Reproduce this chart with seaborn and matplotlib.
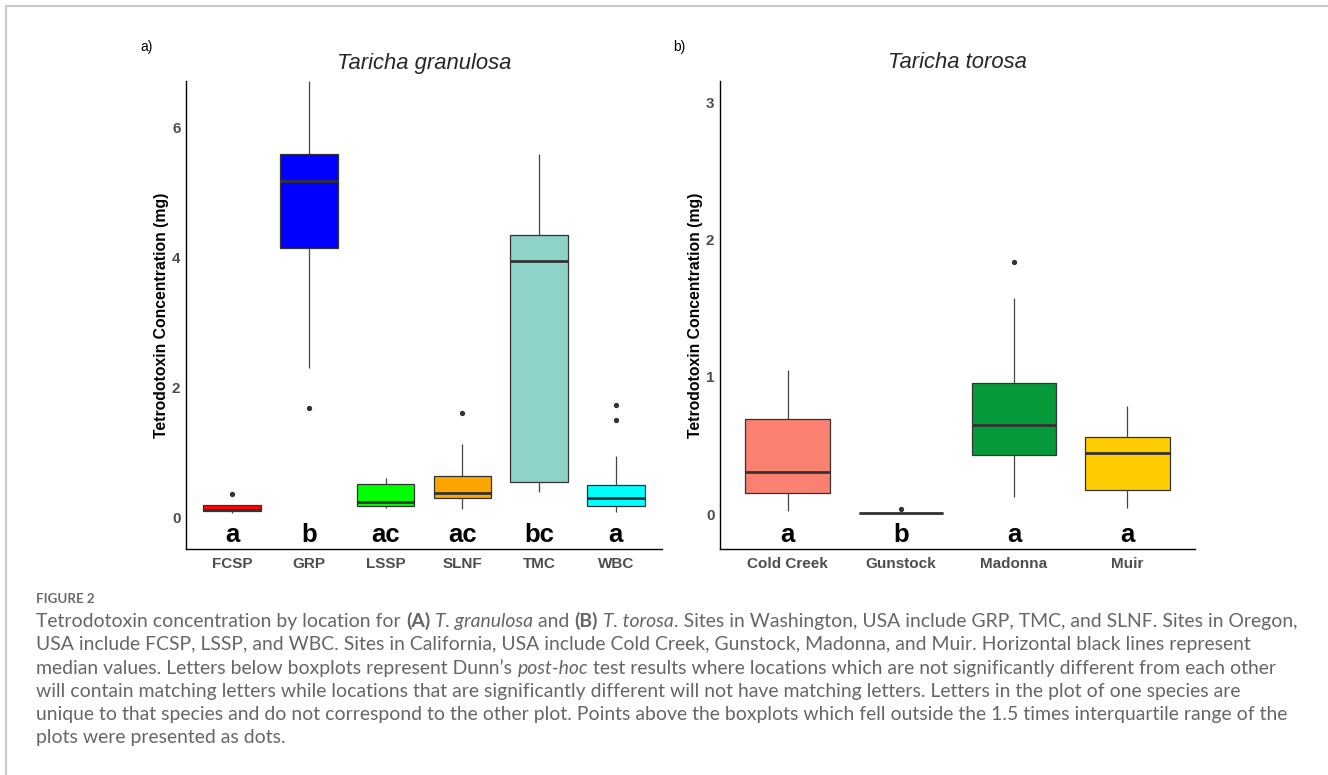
"""
Tetrodotoxin concentration by location, two boxplot panels plus caption.
"""
import matplotlib
matplotlib.use("Agg")
import matplotlib.pyplot as plt
import seaborn as sns
import numpy as np
import pandas as pd
from matplotlib.transforms import IdentityTransform
from matplotlib.lines import Line2D

# ---- data (mg per newt) ----
gran_sites = ["FCSP", "GRP", "LSSP", "SLNF", "TMC", "WBC"]
gran_colors = ["#FF0000", "#0000FF", "#00FF00", "#FFA500", "#8DD3C7", "#00FFFF"]
gran_letters = ["a", "b", "ac", "ac", "bc", "a"]
fcsp = [0.07, 0.08, 0.08, 0.09, 0.10, 0.10, 0.11, 0.13, 0.16, 0.19, 0.19, 0.19, 0.36]
grp = [1.68, 2.30, 3.60, 4.14, 4.50, 4.90, 5.18, 5.30, 5.45, 5.60, 5.90, 6.30, 6.72]
lssp = [0.14, 0.16, 0.17, 0.18, 0.20, 0.22, 0.23, 0.30, 0.42, 0.51, 0.55, 0.58, 0.61]
slnf = [0.12, 0.20, 0.26, 0.29, 0.32, 0.35, 0.38, 0.45, 0.55, 0.64, 0.80, 1.13, 1.61]
tmc = [0.39, 0.45, 0.50, 0.54, 1.80, 3.20, 3.95, 4.05, 4.20, 4.34, 4.70, 5.10, 5.60]
wbc = [0.08, 0.12, 0.15, 0.18, 0.22, 0.26, 0.30, 0.36, 0.42, 0.49, 0.94, 1.50, 1.73]

tor_sites = ["Cold Creek", "Gunstock", "Madonna", "Muir"]
tor_colors = ["#FA8072", "#7F7F7F", "#05993A", "#FFCC00"]
tor_letters = ["a", "b", "a", "a"]
cold_creek = [0.026, 0.07, 0.12, 0.153, 0.20, 0.26, 0.307, 0.40, 0.55, 0.695, 0.80, 0.95, 1.053]
gunstock = [0.008, 0.008, 0.008, 0.008, 0.008, 0.008, 0.008, 0.008, 0.008, 0.008, 0.008, 0.008, 0.041]
madonna = [0.128, 0.25, 0.35, 0.429, 0.50, 0.58, 0.652, 0.75, 0.85, 0.958, 1.20, 1.572, 1.835]
muir = [0.046, 0.09, 0.13, 0.174, 0.25, 0.35, 0.445, 0.48, 0.52, 0.562, 0.65, 0.72, 0.787]

gran_df = pd.DataFrame({
    "site": np.repeat(gran_sites, 13),
    "ttx": fcsp + grp + lssp + slnf + tmc + wbc})
tor_df = pd.DataFrame({
    "site": np.repeat(tor_sites, 13),
    "ttx": cold_creek + gunstock + madonna + muir})

caption_lines = [
    [("Tetrodotoxin concentration by location for ", "n"), ("(A)", "b"), (" ", "n"),
     ("T. granulosa", "i"), (" and ", "n"), ("(B)", "b"), (" ", "n"), ("T. torosa", "i"),
     (". Sites in Washington, USA include GRP, TMC, and SLNF. Sites in Oregon,", "n")],
    [("USA include FCSP, LSSP, and WBC. Sites in California, USA include Cold Creek, "
      "Gunstock, Madonna, and Muir. Horizontal black lines represent", "n")],
    [("median values. Letters below boxplots represent Dunn\u2019s ", "n"), ("post-hoc", "i"),
     (" test results where locations which are not significantly different from each other", "n")],
    [("will contain matching letters while locations that are significantly different will "
      "not have matching letters. Letters in the plot of one species are", "n")],
    [("unique to that species and do not correspond to the other plot. Points above the "
      "boxplots which fell outside the 1.5 times interquartile range of the", "n")],
    [("plots were presented as dots.", "n")],
]

# ---- style ----
sns.set_theme(style="white")
plt.rcParams["font.family"] = ["Liberation Sans", "DejaVu Sans"]

W, H = 1328, 775
fig = plt.figure(figsize=(W / 100, H / 100), dpi=100)
fig.patch.set_facecolor("white")


def px_axes(left, top, right, bottom):
    return fig.add_axes([left / W, 1 - bottom / H, (right - left) / W, (bottom - top) / H])


def draw_panel(ax, df, sites, colors, letters, ylim, yticks, title):
    sns.boxplot(data=df, x="site", y="ttx", hue="site", order=sites, hue_order=sites,
                palette=colors, width=0.75, linecolor="#333333", linewidth=0.9,
                fliersize=3, showcaps=False, legend=False, saturation=1, ax=ax,
                medianprops=dict(linewidth=2, color="#333333"),
                whiskerprops=dict(linewidth=0.9, color="#444444"),
                flierprops=dict(marker="o", markerfacecolor="#333333",
                                markeredgecolor="#333333", markersize=2.8))
    ax.set_xlim(-0.6, len(sites) - 0.4)
    ax.set_ylim(*ylim)
    ax.set_yticks(yticks)
    ax.set_yticklabels([str(t) for t in yticks])
    ax.tick_params(length=0, pad=4, labelsize=11, labelcolor="#4d4d4d")
    for lab in ax.get_xticklabels() + ax.get_yticklabels():
        lab.set_fontweight("bold")
    ax.tick_params(axis="x", pad=6)
    ax.set_xlabel("")
    ax.set_ylabel("Tetrodotoxin Concentration (mg)", fontsize=11.3, fontweight="bold",
                  color="black", labelpad=2)
    for s in ["top", "right"]:
        ax.spines[s].set_visible(False)
    for s in ["left", "bottom"]:
        ax.spines[s].set_color("black")
        ax.spines[s].set_linewidth(1.0)
    ax.set_title(title, fontsize=15.8, fontstyle="italic", pad=9)
    ax.set_facecolor("white")
    ax.grid(False)
    for i, let in enumerate(letters):
        ax.text(i, 0.016, let, transform=ax.get_xaxis_transform(), ha="center",
                va="baseline", fontsize=18.5, fontweight="bold", color="black")


ax1 = px_axes(186, 81, 662, 549)
draw_panel(ax1, gran_df, gran_sites, gran_colors, gran_letters, (-0.49, 6.72),
           [0, 2, 4, 6], "Taricha granulosa")
ax2 = px_axes(720, 81, 1195, 549)
draw_panel(ax2, tor_df, tor_sites, tor_colors, tor_letters, (-0.253, 3.155),
           [0, 1, 2, 3], "Taricha torosa")

ident = IdentityTransform()
fig.text(140, H - 51, "a)", transform=ident, fontsize=10, color="black")
fig.text(673, H - 51, "b)", transform=ident, fontsize=10, color="black")

# card frame
fig.add_artist(Line2D([6 / W, 1327 / W], [1 - 6 / H, 1 - 6 / H], transform=fig.transFigure,
                      color="#c8c8c8", linewidth=1.5))
fig.add_artist(Line2D([6 / W, 6 / W], [1 - 6 / H, 0], transform=fig.transFigure,
                      color="#c8c8c8", linewidth=1.5))

# caption
cap_font = ["Lato", "DejaVu Sans"]
cap_color = "#666666"
fig.text(36.5, H - 602.7, "FIGURE 2", transform=ident, fontsize=9.6, fontweight="bold",
         color="#6a6a6a", family=cap_font)

renderer = fig.canvas.get_renderer()
styles = {"n": dict(), "b": dict(fontweight="bold"), "i": dict(fontstyle="italic")}


def seg_width(text, size, st):
    probe = fig.text(0, 0, "|" + text + "|", transform=ident, fontsize=size,
                     family=cap_font, **styles[st])
    bars = fig.text(0, 0, "||", transform=ident, fontsize=size, family=cap_font, **styles[st])
    w = probe.get_window_extent(renderer).width - bars.get_window_extent(renderer).width
    probe.remove()
    bars.remove()
    return w


base = 12.0
w1 = sum(seg_width(t, base, st) for t, st in caption_lines[0])
cap_size = base * 1252 / w1

y = H - 627
for line in caption_lines:
    x = 36.5
    for text, st in line:
        fig.text(x, y, text, transform=ident, fontsize=cap_size, color=cap_color,
                 family=cap_font, va="baseline", **styles[st])
        x += seg_width(text, cap_size, st)
    y -= 23.3

fig.savefig("out.png", dpi=100, facecolor="white")
